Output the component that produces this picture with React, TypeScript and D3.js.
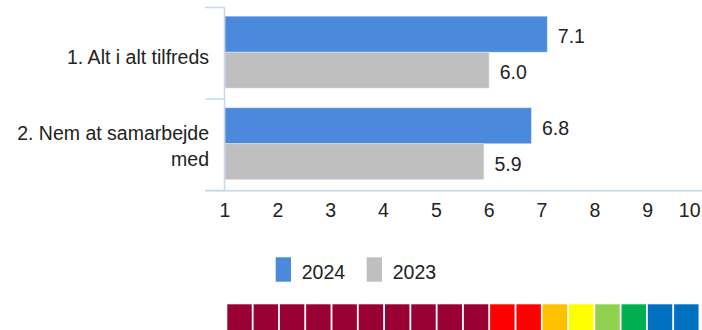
import React from "react";
import * as d3 from "d3";

const categories = ["1. Alt i alt tilfreds", "2. Nem at samarbejde med"];
const categoryLines = [["1. Alt i alt tilfreds"], ["2. Nem at samarbejde", "med"]];
const seriesNames = ["2024", "2023"];
const values2024 = [7.1, 6.8];
const values2023 = [6.0, 5.9];
const xTicks = [1, 2, 3, 4, 5, 6, 7, 8, 9, 10];
const seriesColors = ["#4a89dc", "#bfbfbf"];
const stripColors = [
  "#990033", "#990033", "#990033", "#990033", "#990033",
  "#990033", "#990033", "#990033", "#990033", "#990033",
  "#ff0000", "#ff0000", "#ffc000", "#ffff00", "#92d050",
  "#00b050", "#0070c0", "#0070c0",
];

const W = 702;
const H = 330;
const FONT = "Liberation Sans, Arial, sans-serif";
const FS = 19.5;
const TEXT = "#222";
const AXIS = "#c8d7ea";

export default function App() {
  const x = d3.scaleLinear().domain([1, 10]).range([225, 700.5]);
  const y = d3.scaleBand<string>().domain(categories).range([8, 191]).padding(0);
  const inner = d3.scaleBand<string>().domain(seriesNames).range([8.2, 80.2]).padding(0);
  const data = [values2024, values2023];
  const strip = d3.scaleBand<number>().domain(d3.range(stripColors.length)).range([227.3, 227.3 + 26.18 * 18]).paddingInner(0.07).paddingOuter(0);

  return (
    <svg width={W} height={H} style={{ position: "absolute", left: 0, top: 0, display: "block" }} fontFamily={FONT}>
      <rect x={0} y={0} width={W} height={H} fill="#fff" />
      {/* bars */}
      {categories.map((c, ci) => (
        <g key={c}>
          {seriesNames.map((s, si) => {
            const v = data[si][ci];
            const by = (y(c) as number) + (inner(s) as number);
            const bh = inner.bandwidth();
            return (
              <g key={s}>
                <rect x={x(1)} y={by} width={x(v) - x(1)} height={bh} fill={seriesColors[si]} stroke="#ffffff" strokeOpacity={0.35} strokeWidth={1} />
                <text x={x(v) + 10.5} y={by + bh / 2 + 9} fontSize={FS} fill={TEXT}>{v.toFixed(1)}</text>
              </g>
            );
          })}
        </g>
      ))}
      {/* y axis */}
      <line x1={224.5} x2={224.5} y1={7.5} y2={191} stroke={AXIS} strokeWidth={1.5} />
      {[...categories.map((c) => y(c) as number), 191].map((t, i) => (
        <line key={i} x1={205} x2={225} y1={t - 0.5} y2={t - 0.5} stroke={AXIS} strokeWidth={1.5} />
      ))}
      {/* x axis */}
      <line x1={205} x2={702} y1={190.7} y2={190.7} stroke={AXIS} strokeWidth={1.5} />
      {xTicks.map((t, i) => (
        <text key={t} x={i === xTicks.length - 1 ? x(t) : x(t)} y={217.3} fontSize={FS} fill={TEXT} textAnchor={i === xTicks.length - 1 ? "end" : "middle"}>{t}</text>
      ))}
      {/* category labels */}
      {categories.map((c, ci) => {
        const lines = categoryLines[ci];
        const center = (y(c) as number) + y.bandwidth() / 2 + (ci === 0 ? 3 : 0.5);
        const lh = 25.5;
        const start = center - ((lines.length - 1) * lh) / 2 + 7;
        return (
          <text key={c} fontSize={FS} fill={TEXT} textAnchor="end">
            {lines.map((l, li) => (
              <tspan key={li} x={209} y={start + li * lh}>{l}</tspan>
            ))}
          </text>
        );
      })}
      {/* legend */}
      {seriesNames.map((s, si) => (
        <g key={s} transform={`translate(${275.7 + si * 91},0)`}>
          <rect x={0} y={257.3} width={15.3} height={24.4} fill={seriesColors[si]} />
          <text x={26} y={279.3} fontSize={FS} fill={TEXT}>{s}</text>
        </g>
      ))}
      {/* colour strip */}
      {stripColors.map((col, i) => (
        <rect key={i} x={strip(i) as number} y={304.3} width={strip.bandwidth()} height={30} fill={col} />
      ))}
    </svg>
  );
}
